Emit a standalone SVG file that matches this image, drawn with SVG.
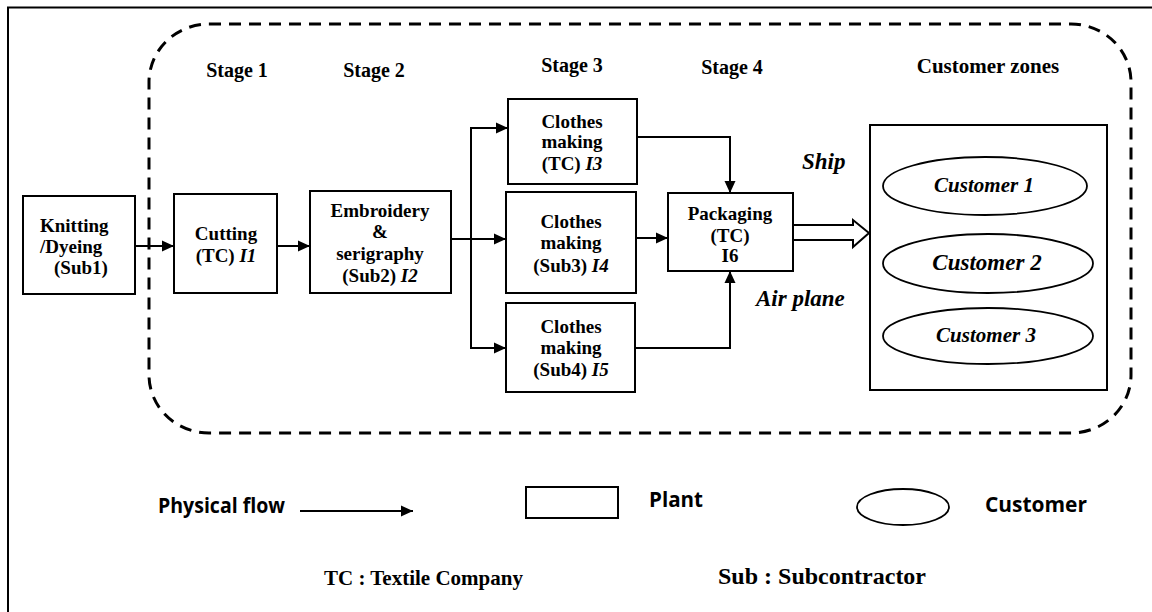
<svg xmlns="http://www.w3.org/2000/svg" width="1152" height="612" viewBox="0 0 1152 612">
<defs>
<marker id="ah" markerUnits="userSpaceOnUse" markerWidth="13" markerHeight="12" refX="12" refY="6" orient="auto">
<path d="M0,0.5 L12,6 L0,11.5 z" fill="#000"/>
</marker>
<style>
.box{fill:#fff;stroke:#000;stroke-width:2}
.ell{fill:#fff;stroke:#000;stroke-width:1.8}
.t{font-family:"Liberation Serif","Times New Roman",serif;font-weight:bold;font-size:19px;fill:#000;text-anchor:middle}
.st{font-family:"Liberation Serif","Times New Roman",serif;font-weight:bold;font-size:20px;fill:#000;text-anchor:middle}
.it{font-style:italic}
.ci{font-family:"Liberation Serif","Times New Roman",serif;font-weight:bold;font-style:italic;font-size:21px;fill:#000;text-anchor:middle}
.lg{font-family:"Open Sans","Liberation Sans",Arial,sans-serif;font-weight:bold;font-size:21px;fill:#000}
.cn{fill:none;stroke:#000;stroke-width:2}
</style>
</defs>
<rect width="1152" height="612" fill="#fff"/>
<rect x="8" y="7.5" width="1150" height="610" fill="none" stroke="#000" stroke-width="2"/>
<rect x="149" y="24" width="982" height="409" rx="60" ry="58" fill="none" stroke="#000" stroke-width="3" stroke-dasharray="12 8"/>

<g id="stages">
<text class="st" x="237" y="77">Stage 1</text>
<text class="st" x="374" y="77">Stage 2</text>
<text class="st" x="572" y="72">Stage 3</text>
<text class="st" x="732" y="74">Stage 4</text>
<text class="st" style="font-size:21px" x="988" y="73">Customer zones</text>
</g>

<g id="knitting">
<rect class="box" x="23" y="196" width="112" height="98"/>
<text class="t" style="text-anchor:start" x="40" y="232">Knitting</text>
<text class="t" style="text-anchor:start" x="40" y="253">/Dyeing</text>
<text class="t" style="text-anchor:start" x="54" y="274">(Sub1)</text>
</g>

<g id="cutting">
<rect class="box" x="174" y="194" width="103" height="99"/>
<text class="t" x="226" y="240">Cutting</text>
<text class="t" x="226" y="262">(TC) <tspan class="it">I1</tspan></text>
</g>

<g id="embroidery">
<rect class="box" x="310" y="191" width="141" height="102"/>
<text class="t" x="380" y="217">Embroidery</text>
<text class="t" x="380" y="238">&amp;</text>
<text class="t" x="380" y="260">serigraphy</text>
<text class="t" x="380" y="282">(Sub2) <tspan class="it">I2</tspan></text>
</g>

<g id="clothes3">
<rect class="box" x="508" y="99" width="129" height="85"/>
<text class="t" x="572" y="128">Clothes</text>
<text class="t" x="572" y="148">making</text>
<text class="t" x="572" y="170">(TC) <tspan class="it">I3</tspan></text>
</g>

<g id="clothes4">
<rect class="box" x="506" y="192" width="130" height="101"/>
<text class="t" x="571" y="228">Clothes</text>
<text class="t" x="571" y="249">making</text>
<text class="t" x="571" y="272">(Sub3) <tspan class="it">I4</tspan></text>
</g>

<g id="clothes5">
<rect class="box" x="506" y="303" width="129" height="89"/>
<text class="t" x="571" y="333">Clothes</text>
<text class="t" x="571" y="354">making</text>
<text class="t" x="571" y="376">(Sub4) <tspan class="it">I5</tspan></text>
</g>

<g id="packaging">
<rect class="box" x="668" y="193" width="125" height="78"/>
<text class="t" x="730" y="220">Packaging</text>
<text class="t" x="730" y="242">(TC)</text>
<text class="t" x="730" y="262">I6</text>
</g>

<g id="customers">
<rect class="box" x="870" y="125" width="237" height="265"/>
<ellipse class="ell" cx="985" cy="186" rx="102" ry="29"/>
<text class="ci" x="984" y="192">Customer 1</text>
<ellipse class="ell" cx="988" cy="263.5" rx="105" ry="29.5"/>
<text class="ci" style="font-size:23px" x="987" y="270">Customer 2</text>
<ellipse class="ell" cx="988" cy="336" rx="105" ry="28"/>
<text class="ci" x="986" y="342">Customer 3</text>
</g>

<g id="connectors">
<path class="cn" d="M135 246 H174" marker-end="url(#ah)"/>
<path class="cn" d="M277 246 H310" marker-end="url(#ah)"/>
<path class="cn" d="M451 239 H506" marker-end="url(#ah)"/>
<path class="cn" d="M471 128 V348"/>
<path class="cn" d="M470 128 H508" marker-end="url(#ah)"/>
<path class="cn" d="M470 348 H506" marker-end="url(#ah)"/>
<path class="cn" d="M637 137 H730 V193" marker-end="url(#ah)"/>
<path class="cn" d="M637 238 H668" marker-end="url(#ah)"/>
<path class="cn" d="M635 348 H730 V271" marker-end="url(#ah)"/>
<polygon points="793,225 853,225 853,220 869,233 853,247 853,240 793,240" fill="#fff" stroke="#000" stroke-width="2"/>
</g>

<g id="transport">
<text class="ci" style="text-anchor:start;font-size:23px" x="802" y="169">Ship</text>
<text class="ci" style="text-anchor:start;font-size:23px" x="756" y="306">Air plane</text>
</g>

<g id="legend">
<text class="lg" x="158" y="513" textLength="127" lengthAdjust="spacingAndGlyphs">Physical flow</text>
<path class="cn" d="M300 511 H413" marker-end="url(#ah)"/>
<rect class="box" x="526" y="487" width="92" height="31"/>
<text class="lg" x="649" y="507" textLength="54" lengthAdjust="spacingAndGlyphs">Plant</text>
<ellipse class="ell" cx="903" cy="507" rx="46" ry="18"/>
<text class="lg" x="985" y="512" textLength="102" lengthAdjust="spacingAndGlyphs">Customer</text>
<text class="st" style="text-anchor:start;font-size:21px" x="324" y="585">TC : Textile Company</text>
<text class="st" style="text-anchor:start;font-size:24px" x="718" y="584">Sub : Subcontractor</text>
</g>
</svg>
